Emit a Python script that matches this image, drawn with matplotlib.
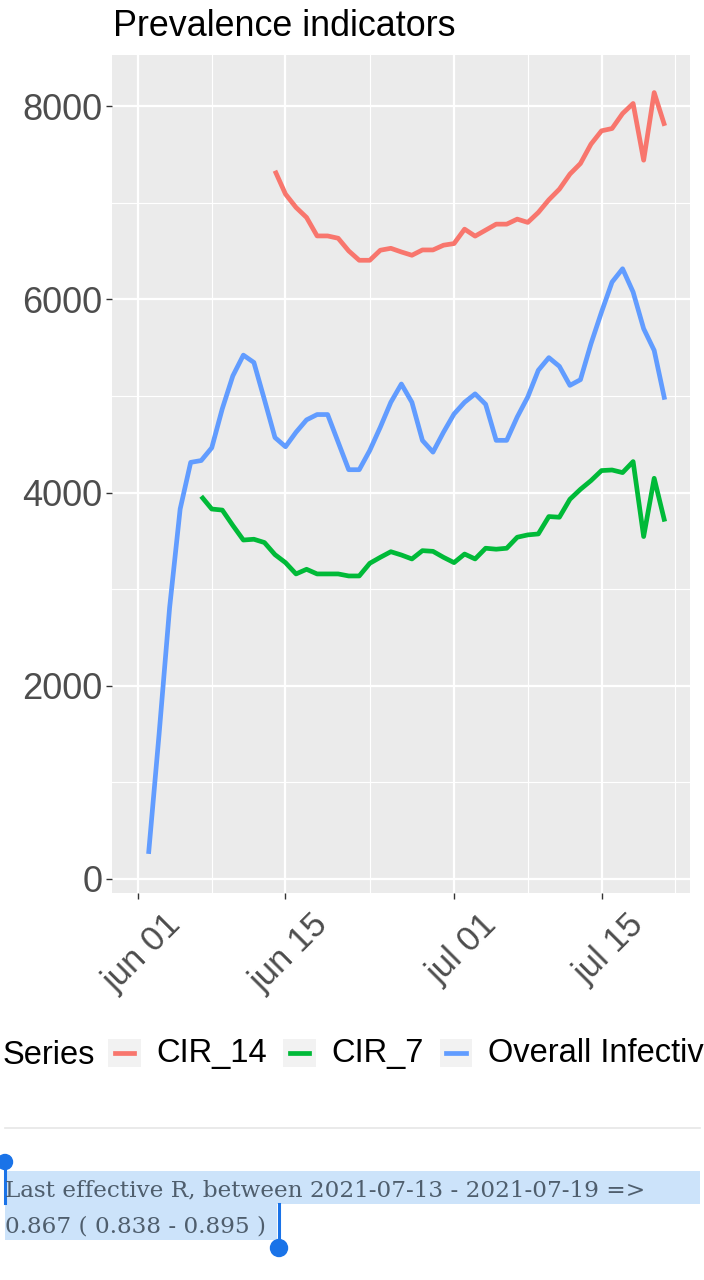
import numpy as np
import pandas as pd
import matplotlib
matplotlib.use("Agg")
import matplotlib.pyplot as plt
import matplotlib.transforms as mtransforms
from matplotlib.lines import Line2D
from matplotlib.patches import Rectangle, Ellipse
from matplotlib.legend_handler import HandlerBase

# ---- data ----
overall_start = "2021-06-02"
overall_infectivity = [260, 1500, 2810, 3830, 4313, 4332, 4464, 4868, 5208, 5423,
                       5347, 4962, 4570, 4475, 4625, 4753, 4808, 4808, 4522, 4237,
                       4237, 4436, 4677, 4935, 5124, 4935, 4540, 4419, 4625, 4814,
                       4935, 5022, 4914, 4541, 4541, 4783, 4990, 5266, 5397, 5307,
                       5110, 5169, 5541, 5869, 6179, 6317, 6076, 5697, 5472, 4962]

cir7_start = "2021-06-07"
cir_7 = [3962, 3830, 3819, 3660, 3509, 3517, 3483, 3358, 3275, 3158,
         3206, 3158, 3158, 3158, 3137, 3137, 3268, 3330, 3388, 3354,
         3313, 3399, 3392, 3330, 3275, 3364, 3313, 3424, 3414, 3424,
         3538, 3562, 3572, 3752, 3745, 3931, 4034, 4124, 4228, 4234,
         4207, 4321, 3545, 4148, 3700]

cir14_start = "2021-06-14"
cir_14 = [7332, 7090, 6952, 6848, 6657, 6657, 6633, 6502, 6405, 6405,
          6509, 6529, 6491, 6457, 6512, 6512, 6561, 6578, 6727, 6655,
          6717, 6779, 6779, 6831, 6797, 6900, 7031, 7141, 7297, 7407,
          7607, 7745, 7769, 7924, 8028, 7441, 8141, 7797]

series_names = ["CIR_14", "CIR_7", "Overall Infectivity"]
series_colors = ["#F8766D", "#00BA38", "#619CFF"]

major_dates = ["2021-06-01", "2021-06-15", "2021-07-01", "2021-07-15"]
major_labels = ["jun 01", "jun 15", "jul 01", "jul 15"]
minor_dates = ["2021-06-08", "2021-06-23", "2021-07-08", "2021-07-22"]
y_major = [0, 2000, 4000, 6000, 8000]
y_minor = [1000, 3000, 5000, 7000]

note_line1 = "Last effective R, between 2021-07-13 - 2021-07-19 =>"
note_line2 = "0.867 ( 0.838 - 0.895 )"

# ---- figure ----
W, H = 704, 1280
plt.rcParams["font.family"] = ["Liberation Sans", "DejaVu Sans"]
fig = plt.figure(figsize=(W / 100, H / 100), dpi=100)
fig.patch.set_facecolor("white")


def fx(px):
    return px / W


def fy(py):
    return 1 - py / H


ax = fig.add_axes([fx(112), fy(893), fx(690) - fx(112), fy(55) - fy(893)])
ax.set_facecolor("#EBEBEB")
for s in ax.spines.values():
    s.set_visible(False)

d_over = pd.date_range(overall_start, periods=len(overall_infectivity), freq="D")
d_7 = pd.date_range(cir7_start, periods=len(cir_7), freq="D")
d_14 = pd.date_range(cir14_start, periods=len(cir_14), freq="D")

LW = 3.4
lines = []
for dates, vals, col in [(d_14, cir_14, series_colors[0]),
                         (d_7, cir_7, series_colors[1]),
                         (d_over, overall_infectivity, series_colors[2])]:
    ln, = ax.plot(dates, vals, color=col, lw=LW, solid_joinstyle="round",
                  solid_capstyle="butt", zorder=3)
    lines.append(ln)

x0 = pd.Timestamp("2021-06-01")
ax.set_xlim(x0 - pd.Timedelta(days=2.47), x0 + pd.Timedelta(days=52.4))
ax.set_ylim(-145, 8530)

ax.set_xticks(pd.to_datetime(major_dates))
ax.set_xticklabels(major_labels)
ax.set_xticks(pd.to_datetime(minor_dates), minor=True)
ax.set_yticks(y_major)
ax.set_yticks(y_minor, minor=True)

ax.grid(which="major", color="white", lw=1.6, zorder=1)
ax.grid(which="minor", color="white", lw=0.8, zorder=1)
ax.set_axisbelow(True)

ax.tick_params(which="major", length=4, width=1.0, color="#333333",
               labelcolor="#4D4D4D", labelsize=26, pad=3)
ax.tick_params(which="minor", length=0)
shift = mtransforms.ScaledTranslation(0.26, -0.05, fig.dpi_scale_trans)
for lab in ax.get_xticklabels():
    lab.set_rotation(45)
    lab.set_ha("right")
    lab.set_va("top")
    lab.set_rotation_mode("anchor")
    lab.set_fontsize(25)
    lab.set_transform(lab.get_transform() + shift)

# title
fig.text(fx(113), fy(36), "Prevalence indicators", fontsize=25.8,
         color="black", ha="left", va="baseline")


# legend with grey key boxes
class KeyHandler(HandlerBase):
    def create_artists(self, legend, orig, xd, yd, width, height, fontsize, trans):
        y0 = yd - 0.28 * height
        bg = Rectangle((xd, y0), width, height * 0.95, facecolor="#F2F2F2",
                       edgecolor="none", transform=trans)
        cy = y0 + height * 0.95 / 2
        seg = Line2D([xd + width * 0.2, xd + width * 0.8], [cy, cy],
                     color=orig.get_color(), lw=LW, transform=trans)
        return [bg, seg]


fig.text(fx(3), fy(1055), "Series", fontsize=23.5, color="black",
         ha="left", va="center")
fig.legend(lines, series_names, ncol=3, loc="center left",
           bbox_to_anchor=(fx(108), fy(1053)), frameon=False,
           fontsize=23.5, handlelength=1.0, handleheight=1.0,
           handletextpad=0.47, columnspacing=0.5, borderpad=0,
           borderaxespad=0, handler_map={Line2D: KeyHandler()})

# separator line and selected note text
fig.add_artist(Line2D([fx(5), fx(700)], [fy(1128), fy(1128)],
                      transform=fig.transFigure, color="#E6E6E6", lw=1.2))
sel = "#CCE3FA"
fig.add_artist(Rectangle((fx(5), fy(1204)), fx(700) - fx(5), fy(1171) - fy(1204),
                         transform=fig.transFigure, facecolor=sel, edgecolor="none"))
fig.add_artist(Rectangle((fx(5), fy(1240)), fx(277) - fx(5), fy(1204) - fy(1240),
                         transform=fig.transFigure, facecolor=sel, edgecolor="none"))
serif = ["DejaVu Serif", "Liberation Serif"]
fig.text(fx(5), fy(1196), note_line1, family=serif,
         fontsize=16.7, color="#4F5E6D", ha="left", va="baseline")
fig.text(fx(5), fy(1232), note_line2, family=serif,
         fontsize=16.7, color="#4F5E6D", ha="left", va="baseline")

handle_col = "#1A73E8"
fig.add_artist(Line2D([fx(5), fx(5)], [fy(1162), fy(1203)],
                      transform=fig.transFigure, color=handle_col, lw=2.2))
fig.add_artist(Ellipse((fx(5), fy(1162)), 15 / W, 15 / H,
                       transform=fig.transFigure, color=handle_col))
fig.add_artist(Line2D([fx(279), fx(279)], [fy(1204), fy(1248)],
                      transform=fig.transFigure, color=handle_col, lw=2.2))
fig.add_artist(Ellipse((fx(279), fy(1248)), 17 / W, 17 / H,
                       transform=fig.transFigure, color=handle_col))

fig.savefig("out.png", dpi=100)
